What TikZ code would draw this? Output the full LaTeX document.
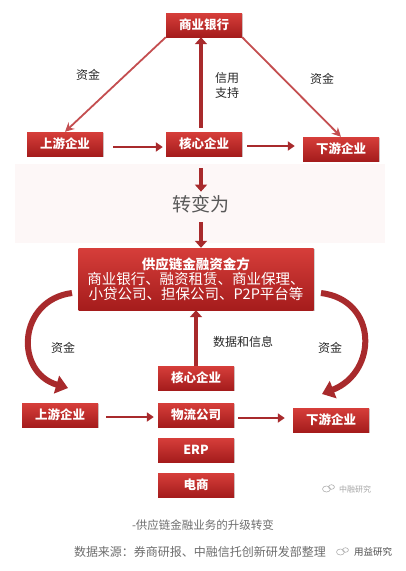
\documentclass[tikz,border=0pt]{standalone}
\usepackage{fontspec}
\setmainfont{Noto Sans CJK SC}
\usetikzlibrary{arrows.meta,shadows}
\definecolor{boxtop}{RGB}{214,62,58}
\definecolor{boxbot}{RGB}{165,28,28}
\definecolor{arr}{RGB}{168,42,44}
\definecolor{thin}{RGB}{196,78,80}
\definecolor{pinkbg}{RGB}{253,247,247}
\definecolor{lbl}{RGB}{40,40,40}
\definecolor{cap}{RGB}{110,110,110}
\begin{document}
\begin{tikzpicture}[x=1pt,y=-1pt,
  box/.style={minimum width=76pt, minimum height=24pt, inner sep=0pt, text=white,
    font=\bfseries\fontsize{12.5}{14}\selectfont, top color=boxtop, bottom color=boxbot,
    drop shadow={shadow xshift=1.2pt, shadow yshift=-1.2pt, opacity=0.35}},
  lab/.style={text=lbl, font=\fontsize{12}{15}\selectfont, align=center},
  thinarrow/.style={draw=thin, line width=1.8pt, -{Stealth[length=9pt,width=9pt]}},
  midarrow/.style={draw=arr, line width=2.6pt, -{Triangle[length=7pt,width=9pt]}},
  blockarrow/.style={draw=arr, line width=4.5pt, -{Triangle[length=7pt,width=12pt]}},
  bigcurve/.style={draw=arr, line width=6pt, -{Triangle[length=12pt,width=18pt]}}]
\useasboundingbox (0,0) rectangle (406,571);
\fill[white] (0,0) rectangle (406,571);
\fill[pinkbg] (15,164) rectangle (385,243);

% top diagram
\node[box] (bank) at (204,25) {商业银行};
\node[box] (up1) at (65,144) {上游企业};
\node[box] (core1) at (204,144) {核心企业};
\node[box] (down1) at (341,149) {下游企业};
\draw[thinarrow] (bank.south west) -- (up1.north);
\draw[thinarrow] (bank.south east) -- (down1.north);
\draw[blockarrow, line width=3.5pt] (core1.north) ++(-3,-4) coordinate (c1n) (c1n) -- (bank.south -| c1n);
\draw[midarrow] (up1.east) ++(10,3) coordinate (a1) (a1) -- ([xshift=-3pt]a1 -| core1.west);
\draw[midarrow] (core1.east) ++(5,2) coordinate (a2) (a2) -- ([xshift=-8pt]a2 -| down1.west);
\node[lab] (l1) at (88,75) {资金};
\node[lab] (l2) at (227,85) {信用\\支持};
\node[lab] (l3) at (322,79) {资金};

% transition
\coordinate (t1) at (201,168);
\node[text=cap!80!black, font=\fontsize{19}{22}\selectfont] (turn) at (201,204) {转变为};
\draw[blockarrow] (t1) -- (turn.north);

% bottom diagram
\node[minimum width=235pt, minimum height=62pt, inner sep=0pt, text=white, align=center,
  top color=boxtop, bottom color=boxbot,
  drop shadow={shadow xshift=1.2pt, shadow yshift=-1.2pt, opacity=0.35}] (fund) at (196,279)
  {{\bfseries\fontsize{13.5}{16}\selectfont 供应链金融资金方}\\[1pt]
   {\fontsize{14.5}{18}\selectfont 商业银行、融资租赁、商业保理、}\\
   {\fontsize{14.5}{18}\selectfont 小贷公司、担保公司、P2P平台等}};
\coordinate (t2) at (201,222);
\draw[blockarrow] (t2) -- (fund.north -| t2);

\node[box] (core2) at (196,378) {核心企业};
\node[box] (up2) at (60,415) {上游企业};
\node[box] (logi) at (196,415) {物流公司};
\node[box] (down2) at (331,420) {下游企业};
\node[box] (erp) at (196,450) {ERP};
\node[box] (ecom) at (196,485) {电商};
\draw[blockarrow, line width=3.5pt] (core2.north) -- (fund.south);
\draw[midarrow] (up2.east) ++(8,2) coordinate (a3) (a3) -- ([xshift=-4pt]a3 -| logi.west);
\draw[midarrow] (logi.east) ++(4,3) coordinate (a4) (a4) -- ([xshift=-8pt]a4 -| down2.west);
\node[lab] (l4) at (243,342) {数据和信息};
\node[lab] (l5) at (63,348) {资金};
\node[lab] (l6) at (330,348) {资金};

\coordinate (cl) at (72,293);
\coordinate (cr) at (321,293);
\draw[bigcurve] (cl) .. controls (18,300) and (14,372) .. (68,388);
\draw[bigcurve] (cr) .. controls (378,300) and (378,372) .. (322,394);

% watermark and captions
\node[text=black!35, font=\fontsize{8}{10}\selectfont] (wm) at (355,489) {中融研究};
\draw[black!30, line width=0.6pt] ([xshift=-9pt]wm.west) ellipse (4pt and 3pt);
\draw[black!30, line width=0.6pt] ([xshift=-4pt,yshift=2pt]wm.west) ellipse (3pt and 2.3pt);
\node[text=cap, font=\fontsize{11.5}{14}\selectfont] (c1) at (203,525) {-供应链金融业务的升级转变};
\node[text=cap, font=\fontsize{12}{14}\selectfont] (c2) at (200,552) {数据来源：券商研报、中融信托创新研发部整理};
\node[text=black!70, font=\fontsize{9.5}{12}\selectfont] (wm2) at (373,552) {用益研究};
\draw[black!30, line width=0.6pt] ([xshift=-10pt]wm2.west) ellipse (4pt and 3pt);
\draw[black!30, line width=0.6pt] ([xshift=-5pt,yshift=2pt]wm2.west) ellipse (3pt and 2.3pt);
\end{tikzpicture}
\end{document}
